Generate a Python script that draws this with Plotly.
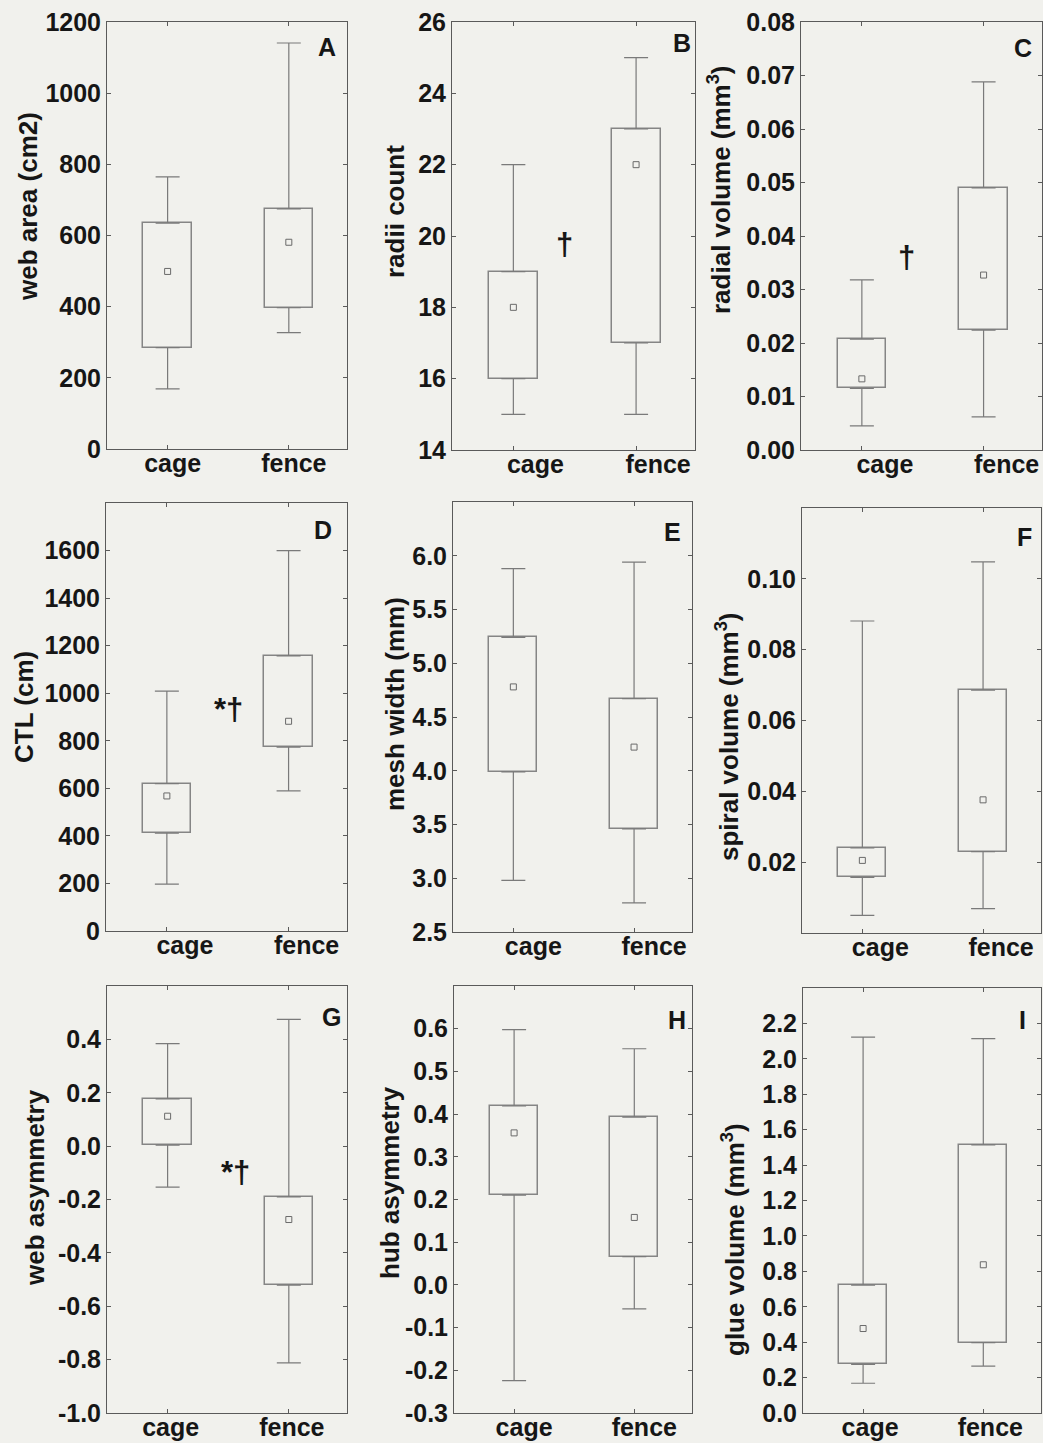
import plotly.graph_objects as go

W, H = 1043, 1443

groups = ["cage", "fence"]

# five-number summaries per group: [min, q1, median, q3, max]
web_area_cage = [169, 285, 499, 635, 765]
web_area_fence = [327, 397, 581, 675, 1141]
radii_cage = [15, 16, 18, 19, 22]
radii_fence = [15, 17, 22, 23, 25]
radial_vol_cage = [0.0045, 0.0115, 0.0133, 0.0207, 0.0318]
radial_vol_fence = [0.0062, 0.0224, 0.0327, 0.0490, 0.0688]
ctl_cage = [197, 411, 568, 620, 1009]
ctl_fence = [589, 773, 882, 1157, 1600]
mesh_cage = [2.98, 3.99, 4.78, 5.24, 5.88]
mesh_fence = [2.77, 3.46, 4.22, 4.67, 5.94]
spiral_cage = [0.0050, 0.0157, 0.0205, 0.0240, 0.0881]
spiral_fence = [0.0069, 0.0230, 0.0376, 0.0686, 0.1048]
web_asym_cage = [-0.154, 0.004, 0.112, 0.177, 0.384]
web_asym_fence = [-0.812, -0.521, -0.275, -0.190, 0.475]
hub_asym_cage = [-0.224, 0.210, 0.356, 0.419, 0.598]
hub_asym_fence = [-0.056, 0.066, 0.158, 0.393, 0.553]
glue_cage = [0.168, 0.275, 0.477, 0.722, 2.123]
glue_fence = [0.265, 0.397, 0.837, 1.514, 2.114]

# y tick values
ticks_A = [0, 200, 400, 600, 800, 1000, 1200]
ticks_B = [14, 16, 18, 20, 22, 24, 26]
ticks_C = [0.00, 0.01, 0.02, 0.03, 0.04, 0.05, 0.06, 0.07, 0.08]
ticks_D = [0, 200, 400, 600, 800, 1000, 1200, 1400, 1600]
ticks_E = [2.5, 3.0, 3.5, 4.0, 4.5, 5.0, 5.5, 6.0]
ticks_F = [0.02, 0.04, 0.06, 0.08, 0.10]
ticks_G = [-1.0, -0.8, -0.6, -0.4, -0.2, 0.0, 0.2, 0.4]
ticks_H = [-0.3, -0.2, -0.1, 0.0, 0.1, 0.2, 0.3, 0.4, 0.5, 0.6]
ticks_I = [0.0, 0.2, 0.4, 0.6, 0.8, 1.0, 1.2, 1.4, 1.6, 1.8, 2.0, 2.2]

# significance marks: (panel, text, x position between groups, y value)
sig_marks = [("B", "†", 0.42, 19.75), ("C", "†", 0.37, 0.036),
             ("D", "*†", 0.51, 930), ("G", "*†", 0.56, -0.10)]

panels = [
    dict(key="A", cage=web_area_cage, fence=web_area_fence, title="web area (cm2)",
         yr=[0, 1200], tv=ticks_A, fmt="{:.0f}", box=(107, 22, 347, 449),
         txy=(28, 207), lsh=(-9, -9), xls=5),
    dict(key="B", cage=radii_cage, fence=radii_fence, title="radii count",
         yr=[14, 26], tv=ticks_B, fmt="{:.0f}", box=(452, 22, 695, 450),
         txy=(395, 212), lsh=(-2, -5), xls=22),
    dict(key="C", cage=radial_vol_cage, fence=radial_vol_fence,
         title="radial volume (mm<sup>3</sup>)",
         yr=[0, 0.08], tv=ticks_C, fmt="{:.2f}", box=(801, 22, 1042, 450),
         txy=(720, 190), lsh=(-8, -10), xls=23),
    dict(key="D", cage=ctl_cage, fence=ctl_fence, title="CTL (cm)",
         yr=[0, 1800], tv=ticks_D, fmt="{:.0f}", box=(106, 503, 347, 931),
         txy=(24, 707), lsh=(-13, -11), xls=18),
    dict(key="E", cage=mesh_cage, fence=mesh_fence, title="mesh width (mm)",
         yr=[2.5, 6.5], tv=ticks_E, fmt="{:.1f}", box=(453, 502, 692, 932),
         txy=(395, 704), lsh=(-9, -14), xls=20),
    dict(key="F", cage=spiral_cage, fence=spiral_fence,
         title="spiral volume (mm<sup>3</sup>)",
         yr=[0, 0.12], tv=ticks_F, fmt="{:.2f}", box=(802, 508, 1041, 933),
         txy=(727, 737), lsh=(-7, -13), xls=18),
    dict(key="G", cage=web_asym_cage, fence=web_asym_fence, title="web asymmetry",
         yr=[-1.0, 0.6], tv=ticks_G, fmt="{:.1f}", box=(107, 986, 347, 1413),
         txy=(35, 1188), lsh=(-4, -15), xls=3),
    dict(key="H", cage=hub_asym_cage, fence=hub_asym_fence, title="hub asymmetry",
         yr=[-0.3, 0.7], tv=ticks_H, fmt="{:.1f}", box=(454, 986, 692, 1413),
         txy=(390, 1183), lsh=(-4, -18), xls=10),
    dict(key="I", cage=glue_cage, fence=glue_fence, title="glue volume (mm<sup>3</sup>)",
         yr=[0, 2.4], tv=ticks_I, fmt="{:.1f}", box=(803, 988, 1041, 1413),
         txy=(733, 1240), lsh=(-13, -16), xls=7),
]

BG = "#f1f1ed"
FRAME = "#5a5a5a"
BOXC = "#858585"
WHISK = "#7a7a7a"
TXT = "#161616"
FONT = "Liberation Sans, Arial, sans-serif"
FS = 25


def bold(s):
    return f"<b>{s}</b>"


fig = go.Figure()
layout = dict(
    width=W, height=H, margin=dict(l=0, r=0, t=0, b=0, autoexpand=False),
    paper_bgcolor=BG, plot_bgcolor=BG, showlegend=False,
    font=dict(family=FONT, size=FS, color=TXT),
    bargap=0,
)
annotations = []

for i, p in enumerate(panels, start=1):
    xa = "x" if i == 1 else f"x{i}"
    ya = "y" if i == 1 else f"y{i}"
    lo = [p["cage"][0], p["fence"][0]]
    q1 = [p["cage"][1], p["fence"][1]]
    md = [p["cage"][2], p["fence"][2]]
    q3 = [p["cage"][3], p["fence"][3]]
    hi = [p["cage"][4], p["fence"][4]]

    # box (q1..q3)
    fig.add_trace(go.Bar(
        x=groups, y=[b - a for a, b in zip(q1, q3)], base=q1, width=0.4,
        marker=dict(color=BG, line=dict(color=BOXC, width=1.5)),
        xaxis=xa, yaxis=ya, hoverinfo="skip"))
    # upper whisker (q3..max)
    fig.add_trace(go.Scatter(
        x=groups, y=q3, mode="markers",
        marker=dict(size=1, color="rgba(0,0,0,0)"),
        error_y=dict(type="data", symmetric=False,
                     array=[h - q for h, q in zip(hi, q3)], arrayminus=[0, 0],
                     width=12, thickness=1.2, color=WHISK),
        xaxis=xa, yaxis=ya, hoverinfo="skip"))
    # lower whisker (min..q1)
    fig.add_trace(go.Scatter(
        x=groups, y=q1, mode="markers",
        marker=dict(size=1, color="rgba(0,0,0,0)"),
        error_y=dict(type="data", symmetric=False,
                     array=[0, 0], arrayminus=[q - l for q, l in zip(q1, lo)],
                     width=12, thickness=1.2, color=WHISK),
        xaxis=xa, yaxis=ya, hoverinfo="skip"))
    # median marker
    fig.add_trace(go.Scatter(
        x=groups, y=md, mode="markers",
        marker=dict(symbol="square-open", size=6, color="#6a6a6a",
                    line=dict(width=1)),
        xaxis=xa, yaxis=ya, hoverinfo="skip"))

    l, t, r, b = p["box"]
    xkey = "xaxis" if i == 1 else f"xaxis{i}"
    ykey = "yaxis" if i == 1 else f"yaxis{i}"
    layout[xkey] = dict(
        domain=[l / W, r / W], anchor=ya, type="category", automargin=False,
        range=[-0.5, 1.48], showline=True, linecolor=FRAME, linewidth=1,
        mirror="ticks", ticks="inside", ticklen=4, tickcolor=FRAME,
        showgrid=False, zeroline=False, ticklabelshift=p["xls"],
        ticklabelstandoff=-8,
        tickvals=groups, ticktext=[bold(g) for g in groups],
        tickfont=dict(size=FS, color=TXT), fixedrange=True)
    layout[ykey] = dict(
        domain=[1 - b / H, 1 - t / H], anchor=xa, range=p["yr"], automargin=False,
        tickvals=p["tv"], ticktext=[bold(p["fmt"].format(v)) for v in p["tv"]],
        showline=True, linecolor=FRAME, linewidth=1, mirror="ticks",
        ticks="inside", ticklen=4, tickcolor=FRAME, showgrid=False,
        zeroline=False, tickfont=dict(size=FS, color=TXT), fixedrange=True)

    # y-axis title
    tx, ty = p["txy"]
    annotations.append(dict(
        text=bold(p["title"]), x=tx / W, y=1 - ty / H, xref="paper", yref="paper",
        xanchor="center", yanchor="middle", textangle=-90, showarrow=False,
        font=dict(size=FS + 1, color=TXT)))
    # panel letter
    annotations.append(dict(
        text=bold(p["key"]), x=1, y=1, xref=f"{xa} domain", yref=f"{ya} domain",
        xanchor="right", yanchor="top", xshift=p["lsh"][0], yshift=p["lsh"][1],
        showarrow=False, font=dict(size=FS, color=TXT)))

key_to_idx = {p["key"]: i for i, p in enumerate(panels, start=1)}
for key, txt, xv, yv in sig_marks:
    i = key_to_idx[key]
    xa = "x" if i == 1 else f"x{i}"
    ya = "y" if i == 1 else f"y{i}"
    annotations.append(dict(
        text=bold(txt), x=xv, y=yv, xref=xa, yref=ya, xanchor="center",
        yanchor="middle", showarrow=False, font=dict(size=31, color=TXT)))

layout["annotations"] = annotations
fig.update_layout(**layout)
fig.write_html(
    "out.html",
    config={"displayModeBar": False},
    post_script="document.body.style.margin='0';document.body.style.background='%s';" % BG,
)
